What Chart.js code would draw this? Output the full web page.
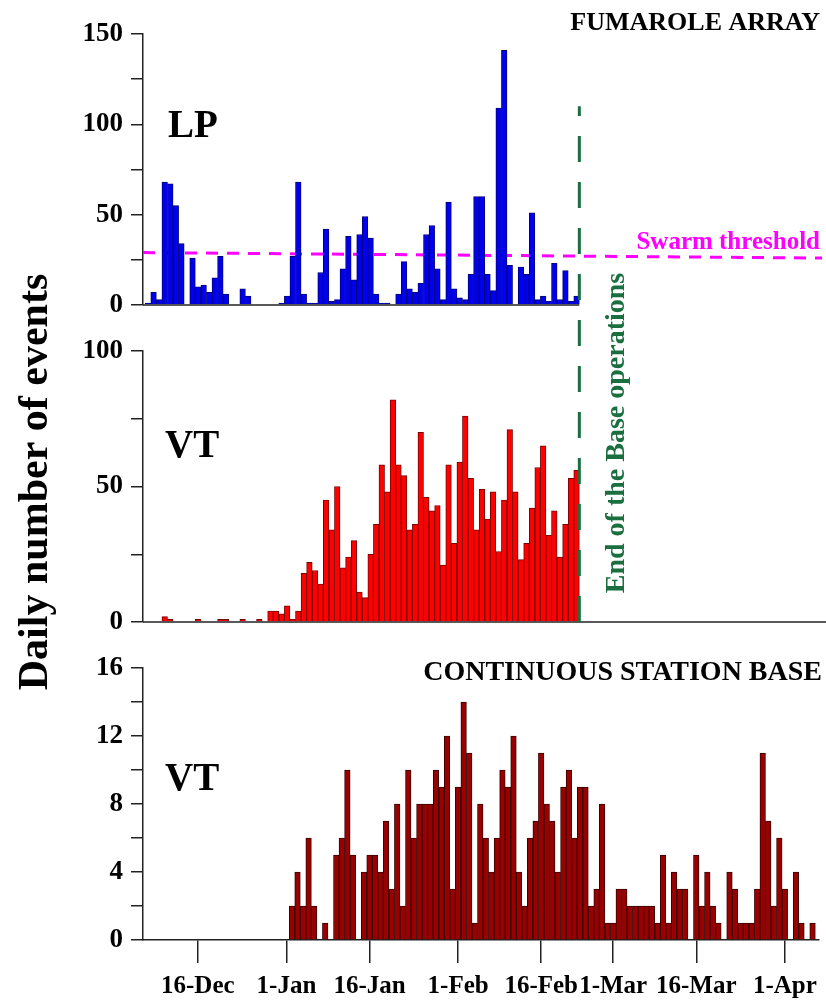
<!DOCTYPE html>
<html>
<head>
<meta charset="utf-8">
<script src="https://cdn.jsdelivr.net/npm/chart.js@4.4.0/dist/chart.umd.min.js"></script>
<style>
body { margin: 0; background: #fff; }
#wrap { position: relative; width: 826px; height: 1003px; }
#wrap canvas { position: absolute; left: 0; top: 0; }
</style>
</head>
<body>
<div id="wrap">
<canvas id="cLP" width="826" height="1003"></canvas>
<canvas id="cVT" width="826" height="1003"></canvas>
<canvas id="cBase" width="826" height="1003"></canvas>
</div>
<script>
// days are counted from 1-Jan (negative = December)
var tickDays = [-16, 0, 15, 31, 46, 59, 74, 90];
var tickLabels = ['16-Dec', '1-Jan', '16-Jan', '1-Feb', '16-Feb', '1-Mar', '16-Mar', '1-Apr'];
var dayMin = -25.9, dayMax = 96.1;

// fumarole array, LP events per day, first value = 6-Dec
var lpStart = -25;
var lpCounts = [1, 7, 3, 68, 67, 55, 34, 0, 26, 10,
    11, 7, 15, 27, 6, 0, 0, 9, 5, 0,
    0, 0, 0, 0, 1, 5, 27, 68, 6, 1,
    1, 18, 42, 2, 3, 20, 38, 14, 39, 49,
    37, 6, 1, 1, 0, 6, 24, 9, 7, 12,
    39, 44, 20, 3, 57, 9, 4, 3, 17, 60,
    60, 17, 8, 109, 141, 22, 0, 21, 17, 51,
    3, 5, 2, 23, 3, 19, 2, 5];

// fumarole array, VT events per day, first value = 10-Dec
var vtStart = -22;
var vtCounts = [2, 1, 0, 0, 0, 0, 1, 0, 0, 0,
    1, 1, 0, 0, 1, 0, 0, 1, 0, 4,
    4, 3, 6, 1, 4, 18, 22, 19, 14, 45,
    34, 50, 20, 24, 30, 11, 9, 25, 36, 58,
    48, 82, 58, 54, 34, 36, 70, 46, 41, 43,
    21, 58, 29, 59, 76, 53, 34, 49, 38, 48,
    26, 45, 71, 48, 23, 29, 42, 57, 65, 32,
    41, 24, 36, 53, 56];

// continuous station BASE, VT events per day, first value = 2-Jan
var baseStart = 1;
var baseCounts = [2, 4, 2, 6, 2, 0, 1, 0, 5, 6,
    10, 5, 0, 4, 5, 5, 4, 7, 3, 8,
    2, 10, 6, 8, 8, 8, 10, 9, 12, 3,
    9, 14, 11, 1, 8, 6, 4, 6, 10, 9,
    12, 4, 2, 6, 7, 11, 8, 7, 4, 9,
    10, 6, 9, 9, 2, 3, 8, 1, 1, 3,
    3, 2, 2, 2, 2, 2, 1, 5, 1, 4,
    3, 3, 0, 5, 2, 4, 2, 1, 0, 4,
    3, 1, 1, 1, 3, 11, 7, 2, 6, 3,
    0, 4, 1, 0, 1];

var swarmThreshold = [29, 26];   // left edge, right edge
var baseEndDay = 52.5;           // end of the Base operations

Chart.defaults.font.family = "'Liberation Serif', 'Times New Roman', serif";
Chart.defaults.color = '#000';

function toPoints(start, counts) {
    return counts.map(function (v, i) {
        return { x: start + i, y: v === 0 ? null : v };
    });
}

function yAxis(max, step, every) {
    return {
        min: 0, max: max,
        afterFit: function (s) { s.width = 143; },
        ticks: {
            stepSize: step, autoSkip: false, padding: 8,
            font: { size: 27, weight: 'bold' },
            callback: function (v) { return v % every === 0 ? v : ''; }
        },
        grid: { drawOnChartArea: false, tickLength: 12, color: '#222', lineWidth: 1.5 },
        border: { color: '#222', width: 1.5 }
    };
}

function hiddenX() {
    return { type: 'linear', min: dayMin, max: dayMax, offset: false, display: false };
}

function label(ctx, text, x, y, size, color, align) {
    ctx.save();
    ctx.font = 'bold ' + size + "px 'Liberation Serif', serif";
    ctx.fillStyle = color;
    ctx.textAlign = align || 'left';
    ctx.textBaseline = 'alphabetic';
    ctx.fillText(text, x, y);
    ctx.restore();
}

function baseline(chart, x2) {
    var ctx = chart.ctx, y0 = chart.scales.y.getPixelForValue(0);
    ctx.save();
    ctx.strokeStyle = '#222';
    ctx.lineWidth = 1.5;
    ctx.beginPath();
    ctx.moveTo(chart.chartArea.left, y0);
    ctx.lineTo(x2, y0);
    ctx.stroke();
    ctx.restore();
}

var commonPlugins = { legend: { display: false }, tooltip: { enabled: false } };

// ---- LP panel
var lpChart = new Chart(document.getElementById('cLP'), {
    type: 'bar',
    data: {
        datasets: [{
            data: toPoints(lpStart, lpCounts),
            backgroundColor: '#0000ee', borderColor: '#00007a', borderWidth: 1,
            barPercentage: 1, categoryPercentage: 1
        }, {
            type: 'line',
            data: [{ x: dayMin, y: swarmThreshold[0] }, { x: dayMax, y: swarmThreshold[1] }],
            borderColor: '#ff00ff', borderWidth: 3, borderDash: [12, 9],
            pointRadius: 0, clip: false
        }]
    },
    options: {
        responsive: false, animation: false,
        layout: { padding: { left: 0, top: 34, right: 4, bottom: 1003 - 305 } },
        scales: { x: hiddenX(), y: yAxis(150, 25, 50) },
        plugins: commonPlugins
    },
    plugins: [{
        id: 'lpDeco',
        afterDatasetsDraw: function (chart) {
            var ctx = chart.ctx;
            baseline(chart, chart.scales.x.getPixelForValue(baseEndDay));
            label(ctx, 'LP', 168, 137, 39, '#000');
            label(ctx, 'FUMAROLE ARRAY', 820, 30, 26, '#000', 'right');
            label(ctx, 'Swarm threshold', 820, 249, 25, '#ff00ff', 'right');
        }
    }]
});

// ---- VT panel (fumarole array)
var vtChart = new Chart(document.getElementById('cVT'), {
    type: 'bar',
    data: {
        datasets: [{
            data: toPoints(vtStart, vtCounts),
            backgroundColor: '#ff0000', borderColor: '#7a0000', borderWidth: 1,
            barPercentage: 1, categoryPercentage: 1
        }]
    },
    options: {
        responsive: false, animation: false,
        layout: { padding: { left: 0, top: 351, right: 4, bottom: 1003 - 622 } },
        scales: { x: hiddenX(), y: yAxis(100, 25, 50) },
        plugins: commonPlugins
    },
    plugins: [{
        id: 'vtDeco',
        afterDatasetsDraw: function (chart) {
            var ctx = chart.ctx;
            baseline(chart, chart.width);
            label(ctx, 'VT', 165, 457, 39, '#000');

            // end of the Base operations
            var xe = chart.scales.x.getPixelForValue(baseEndDay);
            var yBottom = chart.scales.y.getPixelForValue(0);
            var yTop = lpChart.scales.y.getPixelForValue(110);
            ctx.save();
            ctx.strokeStyle = '#1b6e3f';
            ctx.lineWidth = 3;
            ctx.setLineDash([26, 20]);
            ctx.beginPath();
            ctx.moveTo(xe, yBottom);
            ctx.lineTo(xe, yTop);
            ctx.stroke();
            ctx.restore();

            ctx.save();
            ctx.translate(xe + 37, 433);
            ctx.rotate(-Math.PI / 2);
            ctx.font = "bold 28px 'Liberation Serif', serif";
            ctx.fillStyle = '#1b6e3f';
            ctx.textAlign = 'center';
            ctx.textBaseline = 'middle';
            ctx.fillText('End of the Base operations', 0, 0);
            ctx.restore();

            // shared y title
            ctx.save();
            ctx.translate(36, 482);
            ctx.rotate(-Math.PI / 2);
            ctx.font = "bold 42px 'Liberation Serif', serif";
            ctx.fillStyle = '#000';
            ctx.textAlign = 'center';
            ctx.textBaseline = 'middle';
            ctx.fillText('Daily number of events', 0, 0);
            ctx.restore();
        }
    }]
});

// ---- VT panel (continuous station BASE)
var baseChart = new Chart(document.getElementById('cBase'), {
    type: 'bar',
    data: {
        datasets: [{
            data: toPoints(baseStart, baseCounts),
            backgroundColor: '#990000', borderColor: '#3a0000', borderWidth: 1,
            barPercentage: 1, categoryPercentage: 1
        }]
    },
    options: {
        responsive: false, animation: false,
        layout: { padding: { left: 0, top: 668, right: 4, bottom: 3 } },
        scales: {
            x: {
                type: 'linear', min: dayMin, max: dayMax, offset: false,
                afterBuildTicks: function (s) {
                    s.ticks = tickDays.map(function (d) { return { value: d }; });
                },
                afterFit: function (s) { s.height = 60; },
                ticks: {
                    autoSkip: false, maxRotation: 0, padding: 9,
                    font: { size: 25, weight: 'bold' },
                    callback: function (v, i) { return tickLabels[i]; }
                },
                grid: { offset: false, drawOnChartArea: false, tickLength: 23, color: '#222', lineWidth: 1.5 },
                border: { color: '#222', width: 1.5 }
            },
            y: yAxis(16, 2, 4)
        },
        plugins: commonPlugins
    },
    plugins: [{
        id: 'baseDeco',
        afterDatasetsDraw: function (chart) {
            var ctx = chart.ctx;
            label(ctx, 'VT', 165, 790, 39, '#000');
            label(ctx, 'CONTINUOUS STATION BASE', 822, 680, 28, '#000', 'right');
        }
    }]
});
</script>
</body>
</html>
